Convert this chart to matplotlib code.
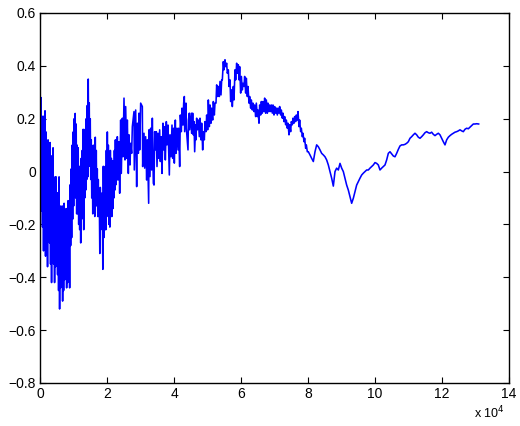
import matplotlib
matplotlib.use("Agg")
import matplotlib.pyplot as plt
import numpy as np

plt.rcParams['font.family'] = ['Liberation Sans', 'DejaVu Sans']

# Early, strongly oscillating part: upper and lower edges of the band read every 300 samples
noisy_x = list(range(0, 22800, 300))
noisy_top = [0.05, 0.28, 0.20, 0.21, 0.12, 0.23, 0.15, 0.10, 0.12, 0.05,
             0.11, 0.02, 0.06, 0.09, -0.05, -0.02, -0.02, -0.08, -0.10, -0.02,
             -0.13, -0.15, -0.13, -0.18, -0.12, -0.16, -0.14, -0.17, -0.11, -0.14,
             -0.05, 0.01, 0.10, 0.15, 0.20, 0.22, 0.18, 0.10, 0.09, 0.02,
             0.00, 0.05, 0.08, 0.16, 0.12, 0.16, 0.20, 0.25, 0.35, 0.26,
             0.20, 0.12, 0.08, 0.10, 0.06, 0.13, 0.08, 0.01, -0.03, -0.10,
             -0.06, -0.12, -0.08, 0.02, 0.00, 0.02, 0.08, 0.15, 0.10, 0.05,
             0.08, 0.05, 0.04, 0.04, 0.08, 0.12]
noisy_bot = [-0.08, -0.15, -0.21, -0.30, -0.25, -0.32, -0.30, -0.36, -0.22, -0.27,
             -0.35, -0.42, -0.30, -0.35, -0.42, -0.36, -0.32, -0.39, -0.45, -0.52,
             -0.44, -0.42, -0.49, -0.45, -0.41, -0.38, -0.44, -0.42, -0.39, -0.44,
             -0.28, -0.25, -0.18, -0.13, -0.06, -0.10, -0.16, -0.16, -0.20, -0.22,
             -0.27, -0.18, -0.14, -0.22, -0.10, -0.07, -0.03, -0.02, 0.05, 0.02,
             -0.03, -0.10, -0.16, -0.12, -0.17, -0.10, -0.13, -0.17, -0.17, -0.31,
             -0.22, -0.21, -0.37, -0.25, -0.22, -0.22, -0.17, -0.15, -0.20, -0.21,
             -0.17, -0.17, -0.14, -0.10, -0.07, -0.05]

# Middle noisy part (sample index, value)
seg2_x = [22885, 23084, 23283, 23582, 23781, 24080, 24279, 24577, 24776, 25075, 25373, 25572,
          25871, 26069, 26368, 26567, 26866, 27065, 27363, 27562, 28059, 28150, 28557, 28855,
          29054, 29353, 29552, 29751, 30049, 30547, 30646, 31044, 31243, 31542, 31840, 32039,
          32437, 32536, 32835, 33034, 33333, 33532, 33830,
          34029, 34228, 34427, 34726, 34925, 35223, 35422, 35721, 35920, 36218, 36417, 36716,
          36915, 37213, 37412, 37711, 37910, 38208, 38606, 38805, 39104, 39402, 39601, 39900,
          40099, 40397, 40596, 40895, 41193, 41392, 41691, 41890, 42188, 42387, 42686, 42885,
          43084, 43183, 43581, 43681, 44178, 44300, 44576, 44676, 45173, 45250]
seg2_y = [-0.019, 0.132, -0.032, 0.113, -0.082, 0.195, -0.007, 0.202, 0.056, 0.278, 0.044, 0.246,
          0.050, 0.195, -0.007, 0.139, 0.025, 0.107, 0.069, 0.170, 0.227, 0.006, 0.233, -0.057,
          0.183, 0.069, 0.221, 0.082, 0.259, 0.246, 0.019, 0.145, 0.013, 0.132, -0.032, 0.120,
          -0.120, 0.158, -0.019, 0.164, 0.006, 0.202, -0.044,
          -0.051, 0.151, 0.082, 0.151, 0.019, 0.145, 0.050, 0.158, 0.038, 0.132, -0.007, 0.183,
          0.082, 0.170, 0.044, 0.189, 0.101, 0.176, -0.013, 0.139, 0.056, 0.176, 0.050, 0.164,
          0.032, 0.195, 0.069, 0.164, 0.082, 0.164, 0.019, 0.214, 0.151, 0.240, 0.176, 0.259,
          0.284, 0.151, 0.259, 0.164, 0.082, 0.195, 0.221, 0.158, 0.221, 0.145]

# Peak region
seg3_x = [45372, 45571, 45770, 45969, 46168, 46467, 46566, 46765, 46964, 47263, 47561, 47760,
          48059, 48258, 48556, 48755, 49054, 49253, 49551, 49750, 50049, 50248, 50546, 50745,
          51044, 51243, 51541, 51740, 52039, 52238, 52536, 52735, 53034, 53233, 53531, 53730,
          54029, 54228, 54427, 54725, 54924, 55223, 55422, 55720, 55919, 56218, 56417, 56715,
          56914, 57213, 57412, 57710, 57909, 58208, 58407, 58705, 58904, 59203,
          59402, 59600, 59899, 60098, 60397, 60596, 60894, 61093, 61392, 61591, 61889, 62088,
          62387, 62586, 62884, 63083, 63382, 63581, 63879, 64078, 64377, 64576, 64874, 65073,
          65372, 65571, 65869, 66068, 66367, 66566, 66864, 67063, 67362, 67561, 67859, 68058,
          68357, 68556, 68854, 69053, 69352, 69551, 69849, 70048, 70347, 70546, 70844, 71043,
          71342, 71541, 71839, 72038, 72337, 72536, 72834, 73033, 73332, 73531, 73829, 74028,
          74327, 74526, 74824, 75023, 75322, 75521, 75819, 76018, 76317, 76516, 76814, 77013,
          77312, 77511, 77809, 78008, 78307, 78506, 78804, 79003, 79302, 79501, 79799]
seg3_y = [0.145, 0.221, 0.139, 0.189, 0.075, 0.177, 0.120, 0.202, 0.158, 0.195, 0.132, 0.202,
          0.120, 0.183, 0.082, 0.151, 0.120, 0.189, 0.151, 0.214, 0.158, 0.271, 0.170, 0.252,
          0.183, 0.240, 0.195, 0.265, 0.214, 0.259, 0.259, 0.328, 0.284, 0.322, 0.284, 0.341,
          0.290, 0.347, 0.347, 0.416, 0.385, 0.423, 0.397, 0.410, 0.372, 0.385, 0.322, 0.347,
          0.265, 0.309, 0.246, 0.322, 0.271, 0.385, 0.347, 0.410, 0.372, 0.404,
          0.347, 0.397, 0.297, 0.360, 0.309, 0.334, 0.322, 0.360, 0.297, 0.353, 0.284, 0.322,
          0.259, 0.284, 0.240, 0.271, 0.233, 0.259, 0.227, 0.252, 0.208, 0.259, 0.208, 0.233,
          0.183, 0.252, 0.214, 0.265, 0.221, 0.265, 0.227, 0.278, 0.221, 0.271, 0.221, 0.259,
          0.227, 0.252, 0.227, 0.252, 0.221, 0.252, 0.214, 0.246, 0.221, 0.240, 0.214, 0.240,
          0.221, 0.246, 0.214, 0.233, 0.202, 0.221, 0.189, 0.208, 0.177, 0.195, 0.164, 0.183,
          0.139, 0.177, 0.151, 0.189, 0.177, 0.202, 0.183, 0.208, 0.189, 0.214, 0.195, 0.227,
          0.170, 0.195, 0.151, 0.164, 0.132, 0.145, 0.113, 0.126, 0.088, 0.101, 0.075]

# Later, smoother part
seg4_x = [80098, 80595, 81093, 81590, 82088, 82585, 83083, 83580, 84078, 84575, 85073, 85570,
          86068, 86565, 87063, 87560, 88058, 88555, 89053, 89550, 90048, 90545, 91043, 91540,
          92038, 92535, 93033, 93530, 94028, 94525, 95023, 95520, 96018, 96515, 97013, 97510,
          98008, 98505, 99003, 99500, 99998, 100495, 100993, 101490, 101988, 102485, 102983,
          103480, 103978, 104475, 104973, 105470, 105968, 106465, 106963, 107460, 107958,
          108455, 108953, 109450, 109948, 110445, 110943, 111440, 111938, 112435, 112933,
          113430, 113928, 114425, 114923, 115420, 115918, 116415, 116913, 117410, 117908,
          118405, 118903, 119400, 119898, 120395, 120893, 121390, 121888, 122385, 122883,
          123380, 123878, 124375, 124873, 125370, 125868, 126365, 126863, 127360, 127858,
          128355, 128853, 129350, 129848, 130345, 130942]
seg4_y = [0.075, 0.063, 0.050, 0.038, 0.075, 0.101, 0.094, 0.082, 0.069, 0.063, 0.056, 0.044,
          0.025, 0.000, -0.025, -0.055, 0.000, 0.013, 0.006, 0.031, 0.013, 0.000, -0.025, -0.051,
          -0.070, -0.095, -0.120, -0.101, -0.076, -0.051, -0.038, -0.025, -0.013, -0.006, 0.000,
          0.006, 0.006, 0.013, 0.019, 0.025, 0.034, 0.031, 0.025, 0.006, 0.013, 0.019, 0.025,
          0.044, 0.069, 0.075, 0.067, 0.059, 0.056, 0.069, 0.084, 0.097, 0.101,
          0.101, 0.103, 0.107, 0.113, 0.126, 0.132, 0.139, 0.145, 0.139, 0.130,
          0.126, 0.132, 0.139, 0.147, 0.151, 0.147, 0.145, 0.149, 0.141, 0.136,
          0.141, 0.145, 0.139, 0.126, 0.113, 0.101, 0.120, 0.130, 0.136, 0.141,
          0.145, 0.149, 0.151, 0.154, 0.158, 0.154, 0.151, 0.160, 0.164, 0.162,
          0.168, 0.174, 0.180, 0.180, 0.181, 0.180]

x_ticks = [0, 20000, 40000, 60000, 80000, 100000, 120000, 140000]
x_tick_labels = ['0', '2', '4', '6', '8', '10', '12', '14']
y_ticks = [-0.8, -0.6, -0.4, -0.2, 0, 0.2, 0.4, 0.6]
y_tick_labels = ['\u22120.8', '\u22120.6', '\u22120.4', '\u22120.2', '0', '0.2', '0.4', '0.6']

# interleave the band edges (top at each sample, bottom half a step later)
seg1_x, seg1_y = [], []
for xi, t, b in zip(noisy_x, noisy_top, noisy_bot):
    seg1_x += [xi, xi + 150]
    seg1_y += [t, b]

x = np.array(seg1_x + seg2_x + seg3_x + seg4_x, dtype=float)
y = np.array(seg1_y + seg2_y + seg3_y + seg4_y, dtype=float)

fig = plt.figure(figsize=(5.2, 4.26), dpi=100)
ax = fig.add_axes([40/520, 43/426, 469/520, 370/426])
ax.plot(x, y, color='#0000ff', linewidth=1.15)
ax.set_xlim(0, 140000)
ax.set_ylim(-0.8, 0.6)
ax.set_xticks(x_ticks)
ax.set_xticklabels(x_tick_labels)
ax.set_yticks(y_ticks)
ax.set_yticklabels(y_tick_labels)
ax.tick_params(direction='in', top=True, right=True, length=4, width=0.8,
               labelsize=10, pad=3)
for s in ax.spines.values():
    s.set_linewidth(1.0)
ax.text(0.991, -0.0946, 'x 10$^{4}$', transform=ax.transAxes, ha='right',
        va='baseline', fontsize=9)
fig.savefig('out.png', dpi=100)
